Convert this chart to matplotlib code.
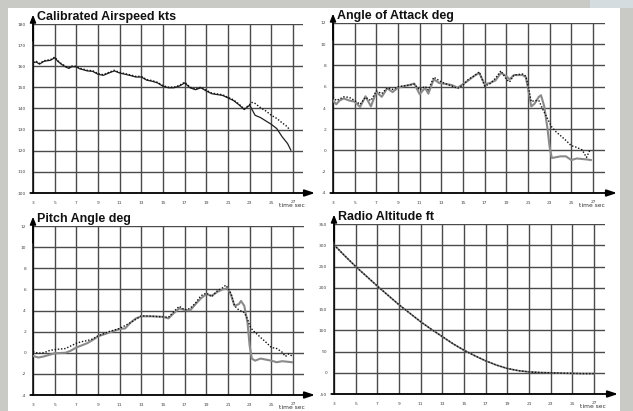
import matplotlib
matplotlib.use("Agg")
import matplotlib.pyplot as plt
from matplotlib.patches import Rectangle
import numpy as np

plt.rcParams["axes.unicode_minus"] = False

# ---------------- data ----------------
# Calibrated airspeed (kts)
cas_t = [3, 3.3, 3.6, 4, 4.3, 4.6, 5, 5.3, 5.6, 6, 6.3, 6.6, 7, 7.3, 7.6, 8, 8.5, 9, 9.5, 10, 10.5,
         11, 11.5, 12, 12.5, 13, 13.5, 14, 14.5, 15, 15.5, 16, 16.5, 17, 17.5, 18, 18.5, 19, 19.5,
         20, 20.5, 21, 21.5, 22, 22.5, 23]
cas_common = [161.7, 162.0, 161.0, 162.3, 162.6, 162.8, 164.0, 162.3, 161.0, 159.7, 159.0, 159.8, 159.7,
              158.8, 158.4, 157.8, 157.6, 156.2, 155.7, 156.8, 157.8, 156.8, 156.2, 155.6, 154.9, 154.9,
              153.4, 152.9, 152.1, 150.5, 149.8, 149.8, 150.6, 152.1, 149.8, 148.9, 149.8, 148.3, 147.0,
              146.6, 146.2, 145.0, 143.8, 141.8, 139.5, 141.6]
cas_solid_t = [23.5, 24, 24.5, 25, 25.5, 26, 26.5, 26.8]
cas_solid_v = [136.8, 135.7, 134.1, 132.5, 130.5, 126.6, 123.4, 120.3]
cas_dot_t = [23.2, 23.5, 24, 24.5, 25, 25.5, 26, 26.5, 26.7]
cas_dot_v = [142.9, 142.4, 140.4, 138.8, 136.8, 135.3, 133.2, 131.3, 129.5]

# Angle of attack (deg)
aoa_t_solid = [3, 3.3, 3.6, 4, 4.5, 5, 5.5, 6, 6.5, 7, 7.5, 8, 8.5, 9, 9.5, 10, 10.5, 11, 11.5, 11.8,
               12.3, 12.8, 13.5, 14, 14.5, 15, 15.5, 16, 16.5, 17, 17.5, 18, 18.5, 19, 19.3, 19.7,
               20.5, 20.8, 21, 21.3, 21.6, 22, 22.2, 22.5, 22.8, 23, 23.2, 23.5, 24, 24.5, 25, 25.5,
               26, 26.5, 26.8]
aoa_solid = [4.7, 4.35, 4.7, 4.9, 4.7, 4.6, 4.1, 5.1, 4.15, 5.5, 5.05, 5.85, 5.5, 5.9, 6.05, 6.15, 6.3,
             5.3, 5.9, 5.35, 6.7, 6.35, 6.25, 6.15, 5.9, 6.25, 6.6, 7.0, 7.3, 6.25, 6.35, 6.6, 7.3, 7.0,
             6.7, 7.1, 7.1, 6.9, 5.85, 4.15, 4.4, 5.05, 5.2, 4.15, 2.05, 0.3, -0.7, -0.65, -0.55, -0.55,
             -0.9, -0.75, -0.8, -0.85, -0.9]
aoa_t_dot = [3, 3.3, 4, 4.5, 5, 5.5, 6, 6.5, 7, 7.5, 8, 8.5, 9, 10, 10.5, 11, 11.5, 11.8, 12.3, 13, 14,
             14.5, 15, 15.5, 16, 16.5, 17, 17.5, 18, 18.5, 19, 19.3, 19.7, 20.5, 20.8, 21, 21.3, 21.6,
             22, 22.4, 22.8, 23.2, 23.6, 24, 24.5, 25, 25.5, 26, 26.4, 26.7, 26.8]
aoa_dot = [5.05, 4.7, 5.05, 5.0, 4.7, 4.35, 5.0, 4.7, 5.6, 5.35, 5.9, 5.75, 6.0, 6.15, 6.25, 5.7, 6.05,
           5.7, 6.9, 6.45, 6.05, 5.85, 6.15, 6.7, 7.0, 7.4, 6.05, 6.3, 6.8, 7.5, 6.7, 6.45, 7.1, 7.2,
           7.0, 6.15, 4.6, 4.7, 4.7, 3.8, 3.0, 2.2, 1.75, 1.4, 0.95, 0.45, 0.3, 0.05, -0.65, 0.0, 0.1]

# Pitch angle (deg)
pitch_t_solid = [3, 3.5, 4, 4.5, 5, 6, 6.5, 7, 8, 8.5, 9, 10, 11, 11.5, 12, 12.5, 13, 14, 15, 15.5, 16,
                 16.5, 17, 17.5, 18, 18.5, 19, 19.5, 20, 20.5, 21, 21.3, 21.6, 22, 22.2, 22.5, 22.8,
                 23, 23.2, 23.5, 24, 24.5, 25, 25.5, 26, 26.5, 26.9]
pitch_solid = [-0.3, -0.45, -0.35, -0.2, -0.05, 0.0, 0.2, 0.5, 0.9, 1.2, 1.55, 1.9, 2.25, 2.3, 2.85,
               3.25, 3.45, 3.45, 3.4, 3.25, 3.75, 4.2, 4.05, 4.0, 4.6, 5.15, 5.55, 5.4, 5.75, 6.0, 6.1,
               5.4, 4.45, 4.6, 4.9, 4.45, 2.85, 0.65, -0.55, -0.75, -0.55, -0.65, -0.75, -0.9, -0.8,
               -0.85, -0.9]
pitch_t_dot = [3, 3.5, 4, 4.5, 5, 6, 6.5, 7, 7.5, 8, 8.5, 9, 10, 11, 12, 13, 14, 15, 15.5, 16, 16.5, 17,
               17.5, 18, 18.5, 19, 19.5, 20, 20.5, 20.8, 21, 21.3, 21.6, 22, 22.5, 22.8, 23, 23.3,
               23.7, 24, 24.5, 25, 25.5, 26, 26.3, 26.6, 26.9]
pitch_dot = [0.1, -0.05, 0.0, 0.2, 0.3, 0.4, 0.65, 0.9, 1.05, 1.15, 1.3, 1.6, 2.0, 2.3, 2.85, 3.5, 3.45,
             3.4, 3.35, 3.9, 4.4, 4.05, 4.2, 4.7, 5.4, 5.65, 5.3, 5.85, 6.15, 6.4, 6.1, 5.55, 4.45,
             4.05, 3.8, 3.2, 2.55, 2.1, 1.75, 1.45, 1.0, 0.5, 0.4, 0.05, -0.35, -0.1, -0.3]

# Radio altitude (ft)
ra_t = [3, 4, 5, 6, 7, 8, 9, 10, 11, 12, 13, 14, 15, 16, 17, 18, 19, 20, 21, 22, 23, 24, 25, 26, 27]
ra_v = [301, 275, 250, 227, 204, 182, 160, 140, 120, 102, 85, 68, 53, 40, 28, 18, 10, 5, 2, 0.5, 0,
        -1, -1.5, -2, -2]

x_ticks = [3, 5, 7, 9, 11, 13, 15, 17, 19, 21, 23, 25, 27]
titles = ["Calibrated Airspeed kts", "Angle of Attack deg", "Pitch Angle deg", "Radio Altitude ft"]
y_ticks = [
    [100, 110, 120, 130, 140, 150, 160, 170, 180],
    [-4, -2, 0, 2, 4, 6, 8, 10, 12],
    [-4, -2, 0, 2, 4, 6, 8, 10, 12],
    [-50, 0, 50, 100, 150, 200, 250, 300, 350],
]

# ---------------- figure ----------------
W, H = 633, 411
fig = plt.figure(figsize=(W / 100, H / 100), dpi=100, facecolor="#c9c9c5")
fig.patches.append(Rectangle((8 / W, 0), (620 - 8) / W, (H - 8) / H, transform=fig.transFigure,
                             facecolor="white", edgecolor="none", zorder=-10))
fig.patches.append(Rectangle((590 / W, (H - 8) / H), 43 / W, 8 / H, transform=fig.transFigure,
                             facecolor="#d4dce0", edgecolor="none", zorder=-10))

# panel pixel boxes: (px at t=3, px at t=27, right px, top px, bottom px)
boxes = [
    (33, 293, 303, 24, 193),
    (333, 593, 605, 23, 193),
    (33, 293, 304, 226, 395),
    (334, 594, 605, 224, 394),
]

axes = []
for i, (x0, x27, xr, yt, yb) in enumerate(boxes):
    ax = fig.add_axes([x0 / W, (H - yb) / H, (xr - x0) / W, (yb - yt) / H])
    ax.set_facecolor("none")
    pps = (x27 - x0) / 24.0
    ax.set_xlim(3, 27 + (xr - x27) / pps)
    yt_list = y_ticks[i]
    ax.set_ylim(yt_list[0], yt_list[-1])
    ax.set_xticks(x_ticks)
    ax.set_yticks(yt_list)
    ax.set_xticklabels([str(v) for v in x_ticks[:-1]] + [""])
    ax.tick_params(axis="both", length=0, labelsize=3.2, colors="#444444")
    ax.tick_params(axis="x", pad=6)
    ax.tick_params(axis="y", pad=5)
    ax.grid(True, color="#4a4a4a", linewidth=1.0)
    ax.set_axisbelow(True)
    for s in ["top", "right", "bottom"]:
        ax.spines[s].set_visible(False)
    ax.spines["left"].set_color("black")
    ax.spines["left"].set_linewidth(1.1)
    # y arrow
    ax.annotate("", xy=(0, 1.055), xytext=(0, 0.9), xycoords="axes fraction",
                arrowprops=dict(arrowstyle="-|>,head_length=0.45,head_width=0.18", color="black", lw=1.1,
                                shrinkA=0, shrinkB=0), annotation_clip=False)
    # x arrow
    xend = 282 / (xr - x0) if i in (0, 2) else 284 / (xr - x0)
    ax.annotate("", xy=(xend, 0), xytext=(-0.01, 0), xycoords="axes fraction",
                arrowprops=dict(arrowstyle="-|>,head_length=0.6,head_width=0.2", color="black", lw=1.3,
                                shrinkA=0, shrinkB=0), annotation_clip=False)
    ax.text(0.015, 1.008, titles[i], transform=ax.transAxes, fontsize=9, fontweight="bold",
            family="Liberation Sans", va="bottom", ha="left", color="#111111")
    # "27" and "time sec"
    ax.annotate("27", xy=(27, yt_list[0]), xytext=(0, -5), textcoords="offset points",
                ha="center", va="top", fontsize=3.2, color="#444444", annotation_clip=False)
    ax.annotate("time sec", xy=(27, yt_list[0]), xytext=(-0.5, -7.5), textcoords="offset points",
                ha="center", va="top", fontsize=4.3, color="#333333", annotation_clip=False)
    axes.append(ax)

ax1, ax2, ax3, ax4 = axes

# airspeed
ax1.plot(cas_t + cas_solid_t, cas_common + cas_solid_v, color="#222222", lw=0.9, zorder=3)
ax1.plot(cas_t + cas_dot_t, [v + 0.3 for v in cas_common] + cas_dot_v, color="#111111", lw=1.0,
         ls=(0, (1, 1.3)), zorder=4)

# AoA
ax2.plot(aoa_t_solid, aoa_solid, color="#8a8a8a", lw=1.5, zorder=3)
ax2.plot(aoa_t_dot, aoa_dot, color="#111111", lw=1.0, ls=(0, (1, 1.3)), zorder=4)

# pitch
ax3.plot(pitch_t_solid, pitch_solid, color="#8a8a8a", lw=1.5, zorder=3)
ax3.plot(pitch_t_dot, pitch_dot, color="#111111", lw=1.0, ls=(0, (1, 1.3)), zorder=4)

# radio altitude
ax4.plot(ra_t, ra_v, color="#777777", lw=1.2, zorder=3)
ax4.plot(ra_t, ra_v, color="#111111", lw=1.0, ls=(0, (1, 1.3)), zorder=4)

fig.savefig("out.png", dpi=100, facecolor=fig.get_facecolor())
